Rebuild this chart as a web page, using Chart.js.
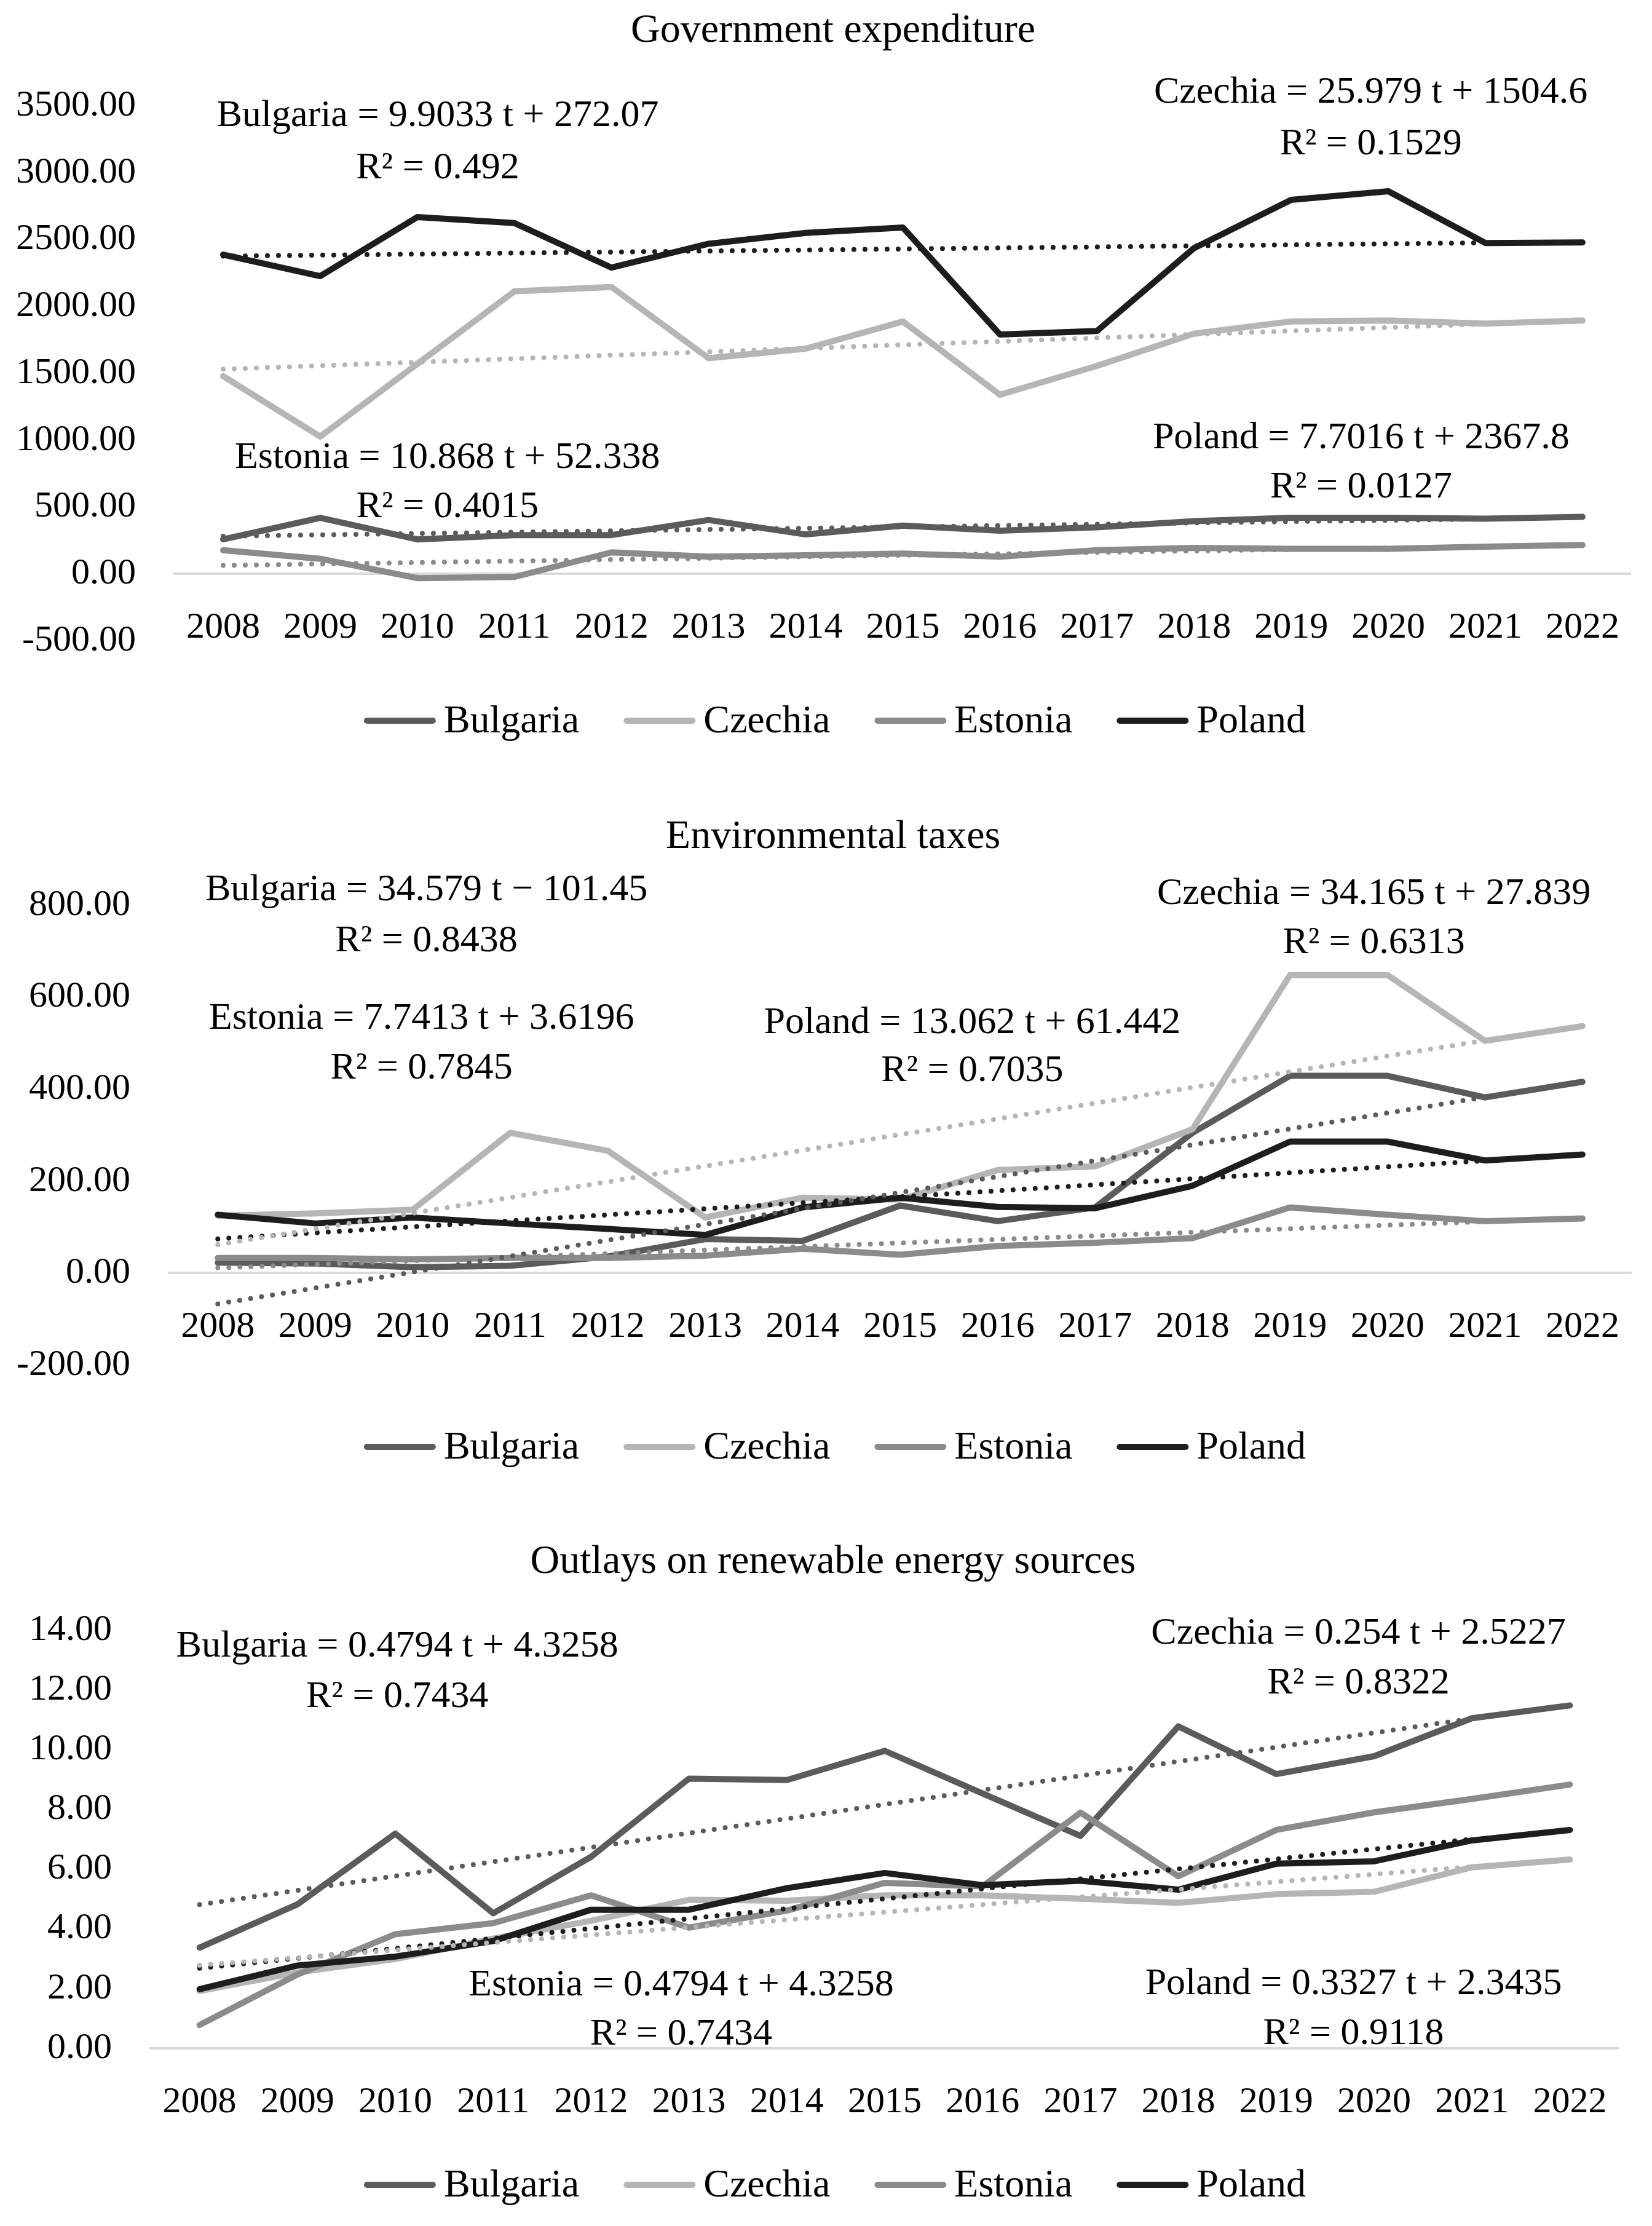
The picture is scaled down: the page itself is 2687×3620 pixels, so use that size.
<!DOCTYPE html>
<html>
<head>
<meta charset="utf-8">
<script src="https://cdn.jsdelivr.net/npm/chart.js@4.4.1/dist/chart.umd.min.js"></script>
<style>
    html, body { margin: 0; padding: 0; background: #fff; }
    body { width: 2687px; height: 3620px; position: relative; overflow: hidden; }
    canvas { position: absolute; left: 0; }
</style>
</head>
<body>
<canvas id="gov" width="2687" height="1250" style="top:0px"></canvas>
<canvas id="tax" width="2687" height="1190" style="top:1250px"></canvas>
<canvas id="res" width="2687" height="1180" style="top:2440px"></canvas>
<script>
// Shared categories
const years = ['2008', '2009', '2010', '2011', '2012', '2013', '2014', '2015',
    '2016', '2017', '2018', '2019', '2020', '2021', '2022'];
const countries = ['Bulgaria', 'Czechia', 'Estonia', 'Poland'];

// Government expenditure
const govBulgaria = [258, 419, 258, 290, 290, 403, 295, 361, 323, 348, 394, 419, 419, 413, 426];
const govCzechia = [1478, 1026, 1570, 2113, 2145, 1613, 1684, 1887, 1339, 1555, 1797, 1887, 1894, 1871, 1894];
const govEstonia = [177, 113, -32, -23, 161, 129, 139, 152, 129, 177, 194, 187, 187, 203, 216];
const govPoland = [2387, 2226, 2668, 2623, 2290, 2468, 2549, 2590, 1790, 1816, 2436, 2797, 2861, 2474, 2478];
const govTrendStart = [282.0, 1530.6, 63.2, 2375.5];
const govTrendEnd = [410.7, 1868.3, 204.5, 2475.6];
const govTicks = [-500, 3500, 500];

// Environmental taxes
const taxBulgaria = [23, 21, 13, 16, 36, 74, 70, 147, 113, 143, 305, 429, 429, 382, 416];
const taxCzechia = [125, 130, 138, 305, 266, 121, 164, 160, 224, 232, 313, 648, 648, 505, 537];
const taxEstonia = [33, 33, 30, 33, 33, 38, 53, 40, 59, 66, 76, 143, 127, 113, 119];
const taxPoland = [127, 108, 121, 108, 96, 83, 143, 164, 144, 141, 190, 286, 286, 245, 258];
const taxTrendStart = [-66.9, 62.0, 11.4, 74.5];
const taxTrendEnd = [382.6, 506.1, 112.0, 244.3];
const taxTicks = [-200, 800, 200];

// Outlays on renewable energy sources
const resBulgaria = [3.37, 4.82, 7.19, 4.52, 6.41, 9.03, 8.98, 9.96, 8.53, 7.11, 10.78, 9.18, 9.78, 11.05, 11.48];
const resCzechia = [1.92, 2.54, 2.99, 3.67, 4.27, 4.97, 4.94, 5.12, 5.12, 5.01, 4.87, 5.16, 5.24, 6.06, 6.32];
const resEstonia = [0.78, 2.47, 3.82, 4.19, 5.12, 4.04, 4.61, 5.54, 5.42, 7.89, 5.76, 7.31, 7.90, 8.35, 8.83];
const resPoland = [1.98, 2.77, 3.07, 3.59, 4.64, 4.64, 5.36, 5.87, 5.46, 5.61, 5.31, 6.18, 6.26, 6.96, 7.31];
const resTrendStart = [4.81, 2.78, null, 2.68];
const resTrendEnd = [11.04, 6.08, null, 7.00];
const resTicks = [0, 14, 2];

const colors = ['#5b5b5b', '#b5b5b5', '#8b8b8b', '#1d1d1d'];
const fontFamily = '"Liberation Serif", serif';

Chart.defaults.font.family = fontFamily;
Chart.defaults.color = '#000';

// Title, legend and trend equations drawn on top of the chart
const decor = {
    id: 'decor',
    afterDraw(chart, args, opts) {
        const { ctx } = chart;
        const x = chart.scales.x, y = chart.scales.y;
        ctx.save();
        ctx.fillStyle = '#000';
        ctx.textAlign = 'center';
        ctx.textBaseline = 'middle';

        ctx.font = '66px ' + fontFamily;
        ctx.fillText(opts.title, 1355, opts.titleY);

        ctx.font = '62px ' + fontFamily;
        opts.notes.forEach(n => {
            const px = x.getPixelForValue(n.at[0]);
            ctx.fillText(n.text[0], px, y.getPixelForValue(n.at[1]));
            ctx.fillText(n.text[1], px, y.getPixelForValue(n.at[2]));
        });

        // legend
        ctx.font = '64px ' + fontFamily;
        const items = chart.data.datasets.filter(d => !d.trend);
        const boxW = 117, gapText = 13, gapItem = 72;
        const widths = items.map(d => boxW + gapText + ctx.measureText(d.label).width);
        const total = widths.reduce((a, b) => a + b, 0) + gapItem * (items.length - 1);
        let lx = 1358 - total / 2;
        ctx.textAlign = 'left';
        items.forEach((d, i) => {
            ctx.strokeStyle = d.borderColor;
            ctx.lineWidth = 10;
            ctx.lineCap = 'round';
            ctx.beginPath();
            ctx.moveTo(lx + 5, opts.legendY);
            ctx.lineTo(lx + boxW - 5, opts.legendY);
            ctx.stroke();
            ctx.fillText(d.label, lx + boxW + gapText, opts.legendY + 2);
            lx += widths[i] + gapItem;
        });
        ctx.restore();
    }
};

function makeChart(id, title, series, trendStart, trendEnd, ticks, notes, frame) {
    const datasets = countries.map((name, i) => ({
        label: name,
        data: series[i],
        borderColor: colors[i],
        backgroundColor: colors[i],
        borderWidth: 10,
        borderJoinStyle: 'round',
        borderCapStyle: 'round',
        pointRadius: 0,
        tension: 0,
        order: 4 - i
    }));
    countries.forEach((name, i) => {
        if (trendStart[i] === null) return;
        datasets.push({
            label: name + ' trend',
            trend: true,
            data: [{ x: years[0], y: trendStart[i] }, { x: years[13], y: trendEnd[i] }],
            borderColor: colors[i],
            borderWidth: 8,
            borderDash: [0, 18],
            borderCapStyle: 'round',
            pointRadius: 0,
            order: 0
        });
    });

    return new Chart(document.getElementById(id), {
        type: 'line',
        data: { labels: years, datasets },
        options: {
            responsive: false,
            animation: false,
            devicePixelRatio: 1,
            layout: { padding: { top: frame.top, bottom: frame.bottom, left: 0, right: frame.right } },
            scales: {
                x: {
                    type: 'category',
                    offset: true,
                    position: { y: 0 },
                    grid: { display: false, drawTicks: false },
                    border: { display: true, color: '#d9d9d9', width: 4 },
                    ticks: { font: { size: 60 }, color: '#000', padding: 52, maxRotation: 0, autoSkip: false }
                },
                y: {
                    min: ticks[0],
                    max: ticks[1],
                    grid: { display: false, drawTicks: false },
                    border: { display: false },
                    ticks: {
                        stepSize: ticks[2],
                        font: { size: 60 },
                        color: '#000',
                        padding: 63,
                        callback: v => Number(v).toFixed(2)
                    },
                    afterFit: s => { s.width = frame.left; }
                }
            },
            plugins: {
                legend: { display: false },
                tooltip: { enabled: false },
                decor: { title, titleY: frame.titleY, legendY: frame.legendY, notes }
            }
        },
        plugins: [decor]
    });
}

makeChart('gov', 'Government expenditure',
    [govBulgaria, govCzechia, govEstonia, govPoland], govTrendStart, govTrendEnd, govTicks,
    [
        { text: ['Bulgaria = 9.9033 t + 272.07', 'R² = 0.492'], at: [2.21, 3422, 3031] },
        { text: ['Czechia = 25.979 t + 1504.6', 'R² = 0.1529'], at: [11.82, 3596, 3210] },
        { text: ['Estonia = 10.868 t + 52.338', 'R² = 0.4015'], at: [2.31, 869, 501] },
        { text: ['Poland = 7.7016 t + 2367.8', 'R² = 0.0127'], at: [11.72, 1016, 644] }
    ],
    { top: 172, bottom: 208, left: 284, right: 33, titleY: 51, legendY: 1172 });

makeChart('tax', 'Environmental taxes',
    [taxBulgaria, taxCzechia, taxEstonia, taxPoland], taxTrendStart, taxTrendEnd, taxTicks,
    [
        { text: ['Bulgaria = 34.579 t − 101.45', 'R² = 0.8438'], at: [2.14, 832, 721] },
        { text: ['Estonia = 7.7413 t + 3.6196', 'R² = 0.7845'], at: [2.09, 553, 445] },
        { text: ['Poland = 13.062 t + 61.442', 'R² = 0.7035'], at: [7.74, 544, 439] },
        { text: ['Czechia = 34.165 t + 27.839', 'R² = 0.6313'], at: [11.86, 825, 718] }
    ],
    { top: 222, bottom: 220, left: 275, right: 33, titleY: 112, legendY: 1103 });

makeChart('res', 'Outlays on renewable energy sources',
    [resBulgaria, resCzechia, resEstonia, resPoland], resTrendStart, resTrendEnd, resTicks,
    [
        { text: ['Bulgaria = 0.4794 t + 4.3258', 'R² = 0.7434'], at: [2.02, 13.44, 11.76] },
        { text: ['Czechia = 0.254 t + 2.5227', 'R² = 0.8322'], at: [11.84, 13.88, 12.21] },
        { text: ['Estonia = 0.4794 t + 4.3258', 'R² = 0.7434'], at: [4.92, 2.10, 0.45] },
        { text: ['Poland = 0.3327 t + 2.3435', 'R² = 0.9118'], at: [11.79, 2.14, 0.47] }
    ],
    { top: 211, bottom: 289, left: 245, right: 54, titleY: 101, legendY: 1113 });
</script>
</body>
</html>
